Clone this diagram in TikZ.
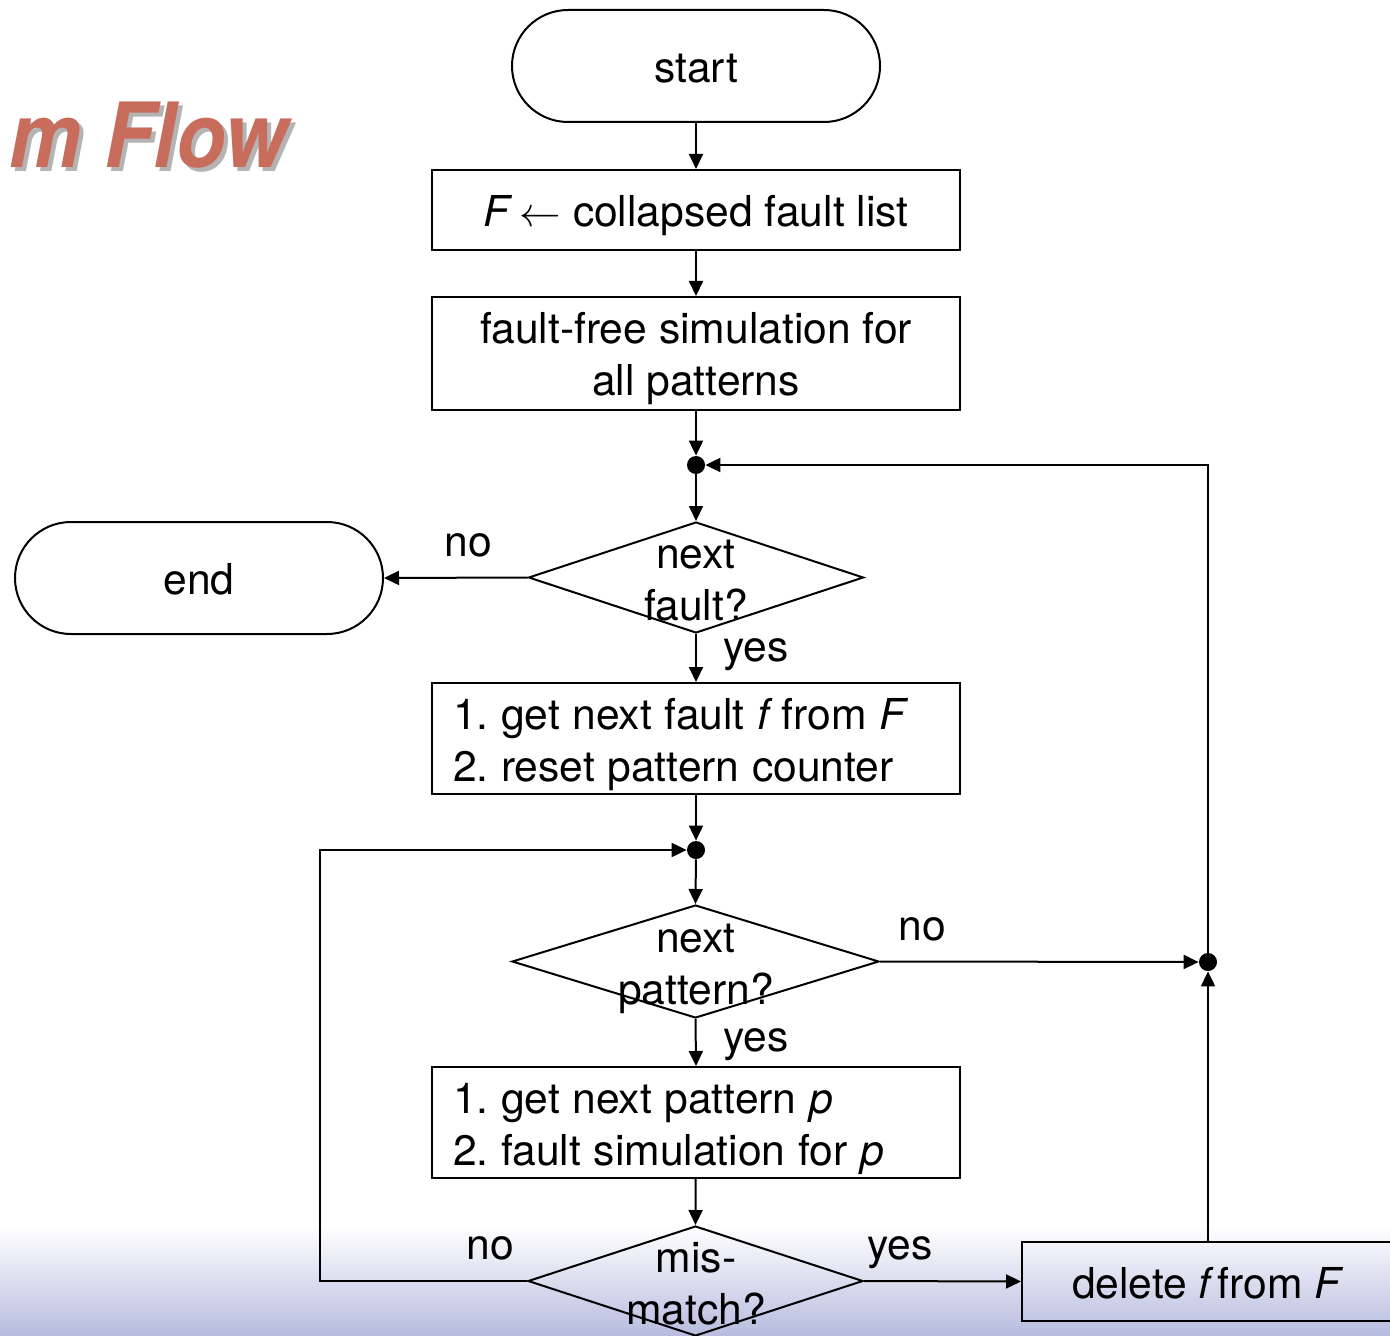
\documentclass[tikz,border=0pt]{standalone}
\usepackage{fontspec}
\setmainfont{TeX Gyre Heros}
\usetikzlibrary{shapes.geometric,arrows.meta}
\definecolor{titlered}{RGB}{200,108,92}
\definecolor{titleshadow}{RGB}{180,180,180}
\definecolor{barbottom}{RGB}{183,188,223}
\definecolor{barmid}{RGB}{236,236,244}
% uniform line box so every text line sits at the same height
\newcommand\tstrut{\rule[-4.75pt]{0pt}{26pt}}
% heading text with its grey drop shadow behind it
\newcommand\shadowed[1]{\rlap{\kern2.2pt\raisebox{-2pt}{\color{titleshadow}#1}}#1}
\frenchspacing
\begin{document}
\begin{tikzpicture}[x=0.5pt,y=-0.5pt,
  every node/.style={font=\fontsize{21.3}{26}\selectfont},
  term/.style={draw, line width=1pt, rounded corners=28pt, minimum width=184pt, minimum height=56pt, inner sep=0pt},
  proc/.style={draw, line width=1pt, minimum width=264pt, align=center, inner sep=0pt},
  procl/.style={draw, line width=1pt, align=left, text width=243pt, inner xsep=10.5pt, inner ysep=0pt, minimum height=55.5pt,
    execute at begin node={\spaceskip=6.3pt\relax}},
  dia/.style={draw, line width=1pt, diamond, inner sep=0pt, minimum width=167.5pt, minimum height=55.5pt},
  dtext/.style={align=center, inner sep=0pt},
  junc/.style={circle, fill=black, inner sep=0pt, minimum size=9pt},
  arr/.style={-{Triangle[length=7.5pt,width=7pt]}, line width=1pt},
  lbl/.style={anchor=base, inner sep=0pt}]
\useasboundingbox (0,0) rectangle (1390,1336);
\clip (0,0) rectangle (1390,1336);

% footer band
\shade[top color=white, middle color=barmid, bottom color=barbottom] (0,1226) rectangle (1390,1336);

% heading
\node[anchor=base east, inner sep=0pt, text=titlered, font=\fontsize{45}{45}\selectfont\bfseries\itshape] (head) at (288,168) {\scalebox{0.9}[1]{\shadowed{m Flow}}};

% flowchart nodes
\node[term] (start) at (696,66) {\tstrut start};
\node[proc, minimum height=40pt] (init) at (696,210) {\tstrut\textit{F}\,$\leftarrow$ collapsed fault list};
\node[proc, minimum height=56.5pt] (good) at (696,353.5) {\tstrut fault-free simulation for\\\tstrut all patterns};
\node[junc] (j1) at (696,465) {};
\node[dia] (d1) at (696,577.5) {};
\node[dtext] (d1t) at (696,577.5) {\tstrut next\\\tstrut fault?};
\node[term] (end) at (199,578) {\tstrut end};
\node[procl] (getf) at (696,738.5) {\tstrut 1. get next fault {\itshape f} from \textit{F}\\\tstrut 2. reset pattern counter};
\node[junc] (j2) at (696,850) {};
\node[dia, minimum width=183.5pt, minimum height=56.5pt] (d2) at (695.5,961.5) {};
\node[dtext] (d2t) at (696,961.5) {\tstrut next\\\tstrut pattern?};
\node[junc] (j3) at (1208,962) {};
\node[procl] (getp) at (696,1122.5) {\tstrut 1. get next pattern \textit{p}\\\tstrut 2. fault simulation for \textit{p}};
\node[dia, minimum height=55pt] (d3) at (695.5,1281) {};
\node[dtext] (d3t) at (696,1282) {\tstrut mis-\\\tstrut match?};
\node[proc, minimum width=186pt, minimum height=39.5pt] (del) at (1208,1281.5) {\tstrut delete {\itshape f}\,from \textit{F}};

\coordinate (lb) at (320,1281);

% connectors
\draw[arr] (start) -- (init);
\draw[arr] (init) -- (good);
\draw[arr] (good) -- (j1);
\draw[arr] (j1) -- (d1.north);
\draw[arr] (d1.west) -- (end.east);
\draw[arr] (d1.south) -- (getf.north);
\draw[arr] (getf) -- (j2);
\draw[arr] (j2) -- (d2.north);
\draw[arr] (d2.south) -- (getp.north);
\draw[arr] (d2.east) -- (j3);
\draw[arr] (getp) -- (d3.north);
\draw[arr] (d3.east) -- (del.west);
\draw[arr] (d3.west) -- (lb) |- (j2);
\draw[arr] (del.north) -- (j3);
\draw[arr] (j3) |- (j1);

% branch labels
\node[lbl] (l1) at (468,556) {no};
\node[lbl] (l2) at (756,661) {yes};
\node[lbl] (l3) at (922,940) {no};
\node[lbl] (l4) at (756,1051) {yes};
\node[lbl] (l5) at (490,1259) {no};
\node[lbl] (l6) at (900,1259) {yes};
\end{tikzpicture}
\end{document}
